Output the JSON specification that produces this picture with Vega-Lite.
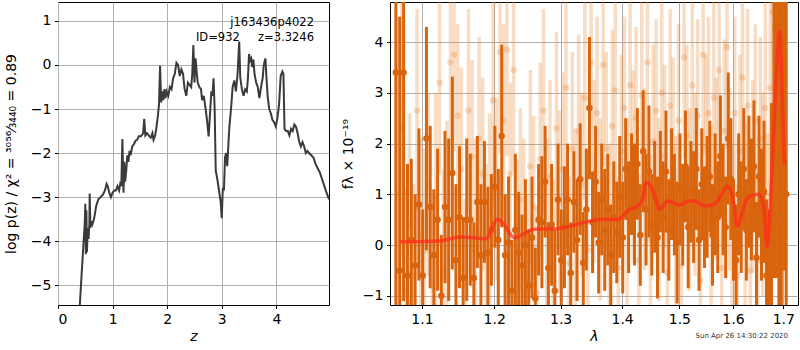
{
"$schema": "https://vega.github.io/schema/vega-lite/v6.json",
"padding": {"left": 3, "top": 1, "right": 0, "bottom": 0},
"background": "white",
"spacing": 10,
"config": {
 "view": {"stroke": "black", "strokeWidth": 1},
 "axis": {"domain": false, "grid": true, "gridColor": "#b0b0b0", "gridWidth": 1, "tickColor": "black", "tickSize": 3.5, "tickWidth": 1, "labelFont": "DejaVu Sans", "labelFontSize": 14, "labelColor": "black", "labelPadding": 3.5, "titleFont": "DejaVu Sans", "titleFontSize": 14, "titleFontWeight": "normal", "titleColor": "black"}
},
"datasets": {
 "pz": [
{"z":0.38,"lp":-5.8},{"z":0.40,"lp":-5.45},{"z":0.44,"lp":-4.6},{"z":0.47,"lp":-4.0},{"z":0.49,"lp":-3.6},{"z":0.50,"lp":-3.15},{"z":0.51,"lp":-4.3},{"z":0.52,"lp":-3.3},{"z":0.53,"lp":-4.25},{"z":0.545,"lp":-3.7},{"z":0.56,"lp":-3.95},{"z":0.575,"lp":-3.6},{"z":0.58,"lp":-2.92},{"z":0.595,"lp":-3.7},{"z":0.61,"lp":-3.55},{"z":0.63,"lp":-3.62},{"z":0.66,"lp":-3.5},{"z":0.70,"lp":-3.2},{"z":0.74,"lp":-3.05},{"z":0.78,"lp":-3.0},{"z":0.82,"lp":-2.95},{"z":0.86,"lp":-2.85},{"z":0.89,"lp":-2.7},{"z":0.91,"lp":-2.75},{"z":0.94,"lp":-2.9},{"z":0.97,"lp":-3.0},{"z":1.0,"lp":-2.9},{"z":1.03,"lp":-2.85},{"z":1.06,"lp":-2.85},{"z":1.09,"lp":-2.75},{"z":1.12,"lp":-2.85},{"z":1.14,"lp":-2.7},{"z":1.16,"lp":-2.75},{"z":1.18,"lp":-1.68},{"z":1.20,"lp":-2.9},{"z":1.215,"lp":-2.2},{"z":1.23,"lp":-2.65},{"z":1.25,"lp":-2.4},{"z":1.27,"lp":-2.05},{"z":1.29,"lp":-2.2},{"z":1.31,"lp":-1.95},{"z":1.33,"lp":-2.05},{"z":1.36,"lp":-1.85},{"z":1.39,"lp":-1.8},{"z":1.42,"lp":-1.72},{"z":1.45,"lp":-1.7},{"z":1.48,"lp":-1.62},{"z":1.52,"lp":-1.62},{"z":1.56,"lp":-1.55},{"z":1.58,"lp":-1.22},{"z":1.60,"lp":-1.6},{"z":1.63,"lp":-1.55},{"z":1.66,"lp":-1.6},{"z":1.70,"lp":-1.65},{"z":1.73,"lp":-1.55},{"z":1.75,"lp":-1.7},{"z":1.78,"lp":-1.6},{"z":1.80,"lp":-1.45},{"z":1.83,"lp":-1.15},{"z":1.85,"lp":-0.9},{"z":1.87,"lp":-0.02},{"z":1.89,"lp":-0.85},{"z":1.91,"lp":-0.6},{"z":1.93,"lp":-0.8},{"z":1.95,"lp":-0.55},{"z":1.97,"lp":-0.75},{"z":1.99,"lp":-0.6},{"z":2.02,"lp":-0.7},{"z":2.05,"lp":-0.5},{"z":2.08,"lp":-0.55},{"z":2.11,"lp":-0.3},{"z":2.14,"lp":-0.2},{"z":2.17,"lp":0.05},{"z":2.20,"lp":0.0},{"z":2.23,"lp":-0.25},{"z":2.26,"lp":-0.1},{"z":2.29,"lp":-0.2},{"z":2.32,"lp":-0.55},{"z":2.35,"lp":-0.7},{"z":2.38,"lp":-0.4},{"z":2.41,"lp":-0.45},{"z":2.44,"lp":-0.5},{"z":2.46,"lp":-0.2},{"z":2.48,"lp":0.45},{"z":2.50,"lp":-0.4},{"z":2.52,"lp":0.15},{"z":2.54,"lp":-0.15},{"z":2.56,"lp":-0.4},{"z":2.59,"lp":-0.5},{"z":2.62,"lp":-0.55},{"z":2.64,"lp":-0.8},{"z":2.67,"lp":-0.7},{"z":2.70,"lp":-0.95},{"z":2.73,"lp":-1.25},{"z":2.76,"lp":-1.62},{"z":2.79,"lp":-1.0},{"z":2.81,"lp":-0.6},{"z":2.83,"lp":-0.7},{"z":2.85,"lp":-0.3},{"z":2.87,"lp":-1.0},{"z":2.89,"lp":-2.4},{"z":2.92,"lp":-2.6},{"z":2.95,"lp":-2.85},{"z":2.98,"lp":-3.1},{"z":3.00,"lp":-3.48},{"z":3.02,"lp":-2.8},{"z":3.04,"lp":-2.85},{"z":3.06,"lp":-2.1},{"z":3.08,"lp":-2.0},{"z":3.10,"lp":-2.3},{"z":3.12,"lp":-1.85},{"z":3.14,"lp":-1.4},{"z":3.17,"lp":-1.0},{"z":3.20,"lp":-0.5},{"z":3.23,"lp":-0.35},{"z":3.26,"lp":-0.6},{"z":3.29,"lp":-0.2},{"z":3.32,"lp":0.53},{"z":3.34,"lp":-0.3},{"z":3.37,"lp":-0.55},{"z":3.40,"lp":-0.7},{"z":3.43,"lp":-0.55},{"z":3.46,"lp":-0.6},{"z":3.48,"lp":-0.3},{"z":3.50,"lp":0.25},{"z":3.52,"lp":0.1},{"z":3.54,"lp":0.15},{"z":3.56,"lp":-0.05},{"z":3.58,"lp":0.12},{"z":3.60,"lp":-0.2},{"z":3.63,"lp":-0.4},{"z":3.66,"lp":-0.5},{"z":3.69,"lp":-0.75},{"z":3.72,"lp":-0.5},{"z":3.75,"lp":-0.3},{"z":3.77,"lp":0.0},{"z":3.80,"lp":0.15},{"z":3.82,"lp":-0.3},{"z":3.84,"lp":-0.7},{"z":3.87,"lp":-1.0},{"z":3.90,"lp":-1.1},{"z":3.93,"lp":-1.25},{"z":3.96,"lp":-1.3},{"z":3.99,"lp":-1.4},{"z":4.02,"lp":-1.2},{"z":4.05,"lp":-0.9},{"z":4.08,"lp":-0.25},{"z":4.11,"lp":-0.15},{"z":4.13,"lp":-0.2},{"z":4.15,"lp":-1.45},{"z":4.18,"lp":-1.5},{"z":4.21,"lp":-1.5},{"z":4.24,"lp":-1.6},{"z":4.27,"lp":-1.45},{"z":4.30,"lp":-1.5},{"z":4.33,"lp":-1.35},{"z":4.36,"lp":-1.4},{"z":4.39,"lp":-1.55},{"z":4.42,"lp":-1.75},{"z":4.45,"lp":-1.85},{"z":4.48,"lp":-1.75},{"z":4.51,"lp":-1.85},{"z":4.54,"lp":-2.0},{"z":4.57,"lp":-1.95},{"z":4.60,"lp":-2.0},{"z":4.64,"lp":-2.05},{"z":4.68,"lp":-2.1},{"z":4.72,"lp":-2.25},{"z":4.76,"lp":-2.35},{"z":4.80,"lp":-2.45},{"z":4.84,"lp":-2.6},{"z":4.88,"lp":-2.75},{"z":4.92,"lp":-2.9},{"z":4.965,"lp":-3.05}
 ],
 "dk": [
{"w":1.066,"f":3.4,"e":5},{"w":1.071,"f":-0.5,"e":5},{"w":1.076,"f":3.4,"e":4.5},{"w":1.081,"f":-0.6,"e":2.2},{"w":1.086,"f":0.1,"e":1.6},{"w":1.091,"f":-0.4,"e":1.4},{"w":1.096,"f":0.8,"e":1.5},{"w":1.101,"f":-0.6,"e":1.3},{"w":1.106,"f":2.1,"e":2.2},{"w":1.111,"f":0.75,"e":1.6},{"w":1.116,"f":-0.2,"e":1.3},{"w":1.121,"f":0.5,"e":1.4},{"w":1.126,"f":-1.0,"e":1.2},{"w":1.131,"f":0.75,"e":1.5},{"w":1.136,"f":0.5,"e":1.6},{"w":1.141,"f":1.42,"e":1.9},{"w":1.146,"f":-0.3,"e":1.5},{"w":1.151,"f":0.55,"e":1.4},{"w":1.156,"f":-0.65,"e":1.2},{"w":1.161,"f":0.5,"e":1.6},{"w":1.166,"f":0.5,"e":1.3},{"w":1.171,"f":-0.65,"e":1.1},{"w":1.176,"f":0.85,"e":1.3},{"w":1.181,"f":-0.2,"e":1.4},{"w":1.186,"f":0.85,"e":1.2},{"w":1.191,"f":-0.15,"e":1.3},{"w":1.196,"f":0.3,"e":1.1},{"w":1.201,"f":1.15,"e":1.2},{"w":1.206,"f":0.1,"e":1.4},{"w":1.211,"f":2.15,"e":1.8},{"w":1.216,"f":-0.2,"e":1.2},{"w":1.221,"f":0.05,"e":1.3},{"w":1.226,"f":-0.9,"e":1.0},{"w":1.231,"f":0.3,"e":1.5},{"w":1.236,"f":-0.15,"e":1.2},{"w":1.241,"f":-0.4,"e":1.0},{"w":1.246,"f":0.0,"e":1.3},{"w":1.251,"f":-0.8,"e":1.1},{"w":1.256,"f":0.15,"e":1.2},{"w":1.261,"f":-1.05,"e":1.0},{"w":1.266,"f":0.5,"e":1.1},{"w":1.271,"f":0.45,"e":1.3},{"w":1.276,"f":1.25,"e":1.1},{"w":1.281,"f":-0.45,"e":0.9},{"w":1.286,"f":0.4,"e":1.2},{"w":1.291,"f":-0.9,"e":1.2},{"w":1.296,"f":0.9,"e":1.1},{"w":1.301,"f":-0.3,"e":1.0},{"w":1.306,"f":0.35,"e":1.2},{"w":1.311,"f":0.9,"e":1.1},{"w":1.316,"f":-0.55,"e":1.0},{"w":1.321,"f":0.85,"e":1.0},{"w":1.326,"f":0.1,"e":1.2},{"w":1.331,"f":1.3,"e":1.1},{"w":1.336,"f":-0.35,"e":1.0},{"w":1.341,"f":0.7,"e":1.2},{"w":1.346,"f":2.7,"e":1.4},{"w":1.351,"f":0.45,"e":1.0},{"w":1.356,"f":1.25,"e":1.1},{"w":1.361,"f":0.05,"e":1.0},{"w":1.366,"f":0.9,"e":1.1},{"w":1.371,"f":0.3,"e":1.2},{"w":1.376,"f":0.7,"e":1.1},{"w":1.381,"f":-0.2,"e":1.0},{"w":1.386,"f":0.55,"e":1.1},{"w":1.391,"f":0.25,"e":1.0},{"w":1.396,"f":0.95,"e":1.2},{"w":1.401,"f":0.15,"e":1.1},{"w":1.406,"f":1.5,"e":1.0},{"w":1.411,"f":0.55,"e":1.1},{"w":1.416,"f":1.2,"e":1.0},{"w":1.421,"f":0.8,"e":1.2},{"w":1.426,"f":1.6,"e":1.1},{"w":1.431,"f":0.2,"e":1.0},{"w":1.436,"f":1.85,"e":1.2},{"w":1.441,"f":0.7,"e":1.1},{"w":1.446,"f":1.45,"e":1.3},{"w":1.451,"f":0.4,"e":1.0},{"w":1.456,"f":0.95,"e":1.1},{"w":1.461,"f":0.15,"e":1.2},{"w":1.466,"f":1.25,"e":1.0},{"w":1.471,"f":0.55,"e":1.1},{"w":1.476,"f":1.45,"e":1.2},{"w":1.481,"f":0.3,"e":1.0},{"w":1.486,"f":1.2,"e":1.1},{"w":1.491,"f":0.8,"e":1.0},{"w":1.496,"f":0.05,"e":1.2},{"w":1.501,"f":1.1,"e":1.1},{"w":1.506,"f":0.6,"e":1.0},{"w":1.511,"f":1.55,"e":1.1},{"w":1.516,"f":0.35,"e":1.2},{"w":1.521,"f":1.05,"e":1.0},{"w":1.526,"f":0.75,"e":1.1},{"w":1.531,"f":1.5,"e":1.2},{"w":1.536,"f":0.1,"e":1.0},{"w":1.541,"f":1.2,"e":1.1},{"w":1.546,"f":0.55,"e":1.0},{"w":1.551,"f":0.95,"e":1.2},{"w":1.556,"f":1.35,"e":1.1},{"w":1.561,"f":0.2,"e":1.0},{"w":1.566,"f":1.0,"e":1.2},{"w":1.571,"f":0.55,"e":1.1},{"w":1.576,"f":1.75,"e":1.2},{"w":1.581,"f":0.9,"e":1.1},{"w":1.586,"f":0.35,"e":1.0},{"w":1.591,"f":2.1,"e":1.3},{"w":1.596,"f":1.3,"e":1.2},{"w":1.601,"f":0.3,"e":1.0},{"w":1.606,"f":-0.3,"e":1.1},{"w":1.611,"f":1.0,"e":1.2},{"w":1.616,"f":0.55,"e":1.1},{"w":1.621,"f":1.5,"e":1.2},{"w":1.626,"f":0.3,"e":1.0},{"w":1.631,"f":1.25,"e":1.3},{"w":1.636,"f":0.9,"e":1.2},{"w":1.641,"f":1.55,"e":1.3},{"w":1.646,"f":-0.25,"e":1.1},{"w":1.651,"f":1.35,"e":1.2},{"w":1.656,"f":0.6,"e":1.3},{"w":1.661,"f":1.05,"e":1.4},{"w":1.666,"f":-0.6,"e":1.5},{"w":1.671,"f":-1.1,"e":1.8},{"w":1.676,"f":0.3,"e":2.5},{"w":1.681,"f":2.35,"e":3},{"w":1.686,"f":4.35,"e":5},{"w":1.691,"f":0.5,"e":5},{"w":1.696,"f":3.1,"e":5},{"w":1.701,"f":4.5,"e":5},{"w":1.706,"f":1.0,"e":5}
 ],
 "lt": [
{"w":1.0685,"f":1.0,"e":3.5},{"w":1.0735,"f":2.3,"e":2.5},{"w":1.0785,"f":-0.9,"e":2.0},{"w":1.0835,"f":0.4,"e":2.2},{"w":1.0885,"f":-0.6,"e":1.8},{"w":1.0935,"f":2.65,"e":2.0},{"w":1.0985,"f":0.2,"e":1.9},{"w":1.1035,"f":-0.1,"e":2.0},{"w":1.1085,"f":1.2,"e":1.8},{"w":1.1135,"f":-0.8,"e":1.9},{"w":1.1185,"f":0.9,"e":2.1},{"w":1.1235,"f":3.2,"e":1.8},{"w":1.1285,"f":-0.5,"e":2.0},{"w":1.1335,"f":0.55,"e":1.9},{"w":1.1385,"f":3.6,"e":2.1},{"w":1.1435,"f":3.75,"e":1.9},{"w":1.1485,"f":2.55,"e":1.8},{"w":1.1535,"f":1.5,"e":2.0},{"w":1.1585,"f":-0.8,"e":1.7},{"w":1.1635,"f":2.65,"e":2.0},{"w":1.1685,"f":1.75,"e":1.9},{"w":1.1735,"f":0.3,"e":1.8},{"w":1.1785,"f":2.1,"e":2.0},{"w":1.1835,"f":1.4,"e":1.9},{"w":1.1885,"f":-0.2,"e":1.8},{"w":1.1935,"f":0.6,"e":2.0},{"w":1.1985,"f":2.85,"e":2.1},{"w":1.2035,"f":1.1,"e":1.8},{"w":1.2085,"f":3.8,"e":2.0},{"w":1.2135,"f":2.45,"e":1.9},{"w":1.2185,"f":3.85,"e":2.1},{"w":1.2235,"f":1.4,"e":1.8},{"w":1.2285,"f":3.45,"e":2.0},{"w":1.2335,"f":-0.2,"e":1.9},{"w":1.2385,"f":0.9,"e":1.8},{"w":1.2435,"f":0.1,"e":2.0},{"w":1.2485,"f":-0.7,"e":1.7},{"w":1.2535,"f":1.55,"e":1.9},{"w":1.2585,"f":0.75,"e":1.8},{"w":1.2635,"f":-0.95,"e":1.7},{"w":1.2685,"f":1.7,"e":1.9},{"w":1.2735,"f":2.65,"e":2.0},{"w":1.2785,"f":0.3,"e":1.8},{"w":1.2835,"f":1.35,"e":1.9},{"w":1.2885,"f":-0.5,"e":1.8},{"w":1.2935,"f":2.3,"e":1.9},{"w":1.2985,"f":0.85,"e":1.8},{"w":1.3035,"f":1.5,"e":1.9},{"w":1.3085,"f":3.1,"e":2.0},{"w":1.3135,"f":-0.35,"e":1.7},{"w":1.3185,"f":1.9,"e":1.9},{"w":1.3235,"f":0.5,"e":1.8},{"w":1.3285,"f":2.25,"e":1.9},{"w":1.3335,"f":1.2,"e":1.8},{"w":1.3385,"f":2.9,"e":2.0},{"w":1.3435,"f":-0.1,"e":1.8},{"w":1.3485,"f":3.6,"e":2.1},{"w":1.3535,"f":1.45,"e":1.8},{"w":1.3585,"f":2.6,"e":1.9},{"w":1.3635,"f":0.7,"e":1.8},{"w":1.3685,"f":3.55,"e":2.0},{"w":1.3735,"f":1.9,"e":1.9},{"w":1.3785,"f":0.2,"e":1.8},{"w":1.3835,"f":2.35,"e":1.9},{"w":1.3885,"f":3.05,"e":2.0},{"w":1.3935,"f":-0.45,"e":1.8},{"w":1.3985,"f":1.85,"e":1.9},{"w":1.4035,"f":2.7,"e":1.8},{"w":1.4085,"f":0.6,"e":1.9},{"w":1.4135,"f":3.15,"e":1.8},{"w":1.4185,"f":1.55,"e":1.9},{"w":1.4235,"f":2.5,"e":1.8},{"w":1.4285,"f":-0.3,"e":1.7},{"w":1.4335,"f":2.95,"e":1.9},{"w":1.4385,"f":1.3,"e":1.8},{"w":1.4435,"f":3.6,"e":2.0},{"w":1.4485,"f":0.1,"e":1.7},{"w":1.4535,"f":2.05,"e":1.9},{"w":1.4585,"f":2.65,"e":1.8},{"w":1.4635,"f":0.7,"e":1.8},{"w":1.4685,"f":3.0,"e":1.9},{"w":1.4735,"f":1.75,"e":1.8},{"w":1.4785,"f":-0.55,"e":1.7},{"w":1.4835,"f":2.75,"e":1.9},{"w":1.4885,"f":1.9,"e":1.8},{"w":1.4935,"f":0.35,"e":1.8},{"w":1.4985,"f":2.45,"e":1.9},{"w":1.5035,"f":-0.4,"e":1.7},{"w":1.5085,"f":3.7,"e":2.0},{"w":1.5135,"f":2.15,"e":1.8},{"w":1.5185,"f":0.9,"e":1.8},{"w":1.5235,"f":3.15,"e":1.9},{"w":1.5285,"f":1.2,"e":1.8},{"w":1.5335,"f":2.55,"e":1.9},{"w":1.5385,"f":-0.7,"e":1.7},{"w":1.5435,"f":3.75,"e":2.0},{"w":1.5485,"f":1.95,"e":1.8},{"w":1.5535,"f":2.6,"e":1.9},{"w":1.5585,"f":0.55,"e":1.8},{"w":1.5635,"f":2.9,"e":1.9},{"w":1.5685,"f":1.5,"e":1.8},{"w":1.5735,"f":3.45,"e":2.0},{"w":1.5785,"f":-0.45,"e":1.7},{"w":1.5835,"f":2.25,"e":1.8},{"w":1.5885,"f":3.9,"e":2.0},{"w":1.5935,"f":1.3,"e":1.8},{"w":1.5985,"f":0.2,"e":1.8},{"w":1.6035,"f":2.6,"e":1.9},{"w":1.6085,"f":-0.6,"e":1.8},{"w":1.6135,"f":1.85,"e":1.9},{"w":1.6185,"f":3.3,"e":2.0},{"w":1.6235,"f":0.6,"e":1.8},{"w":1.6285,"f":2.75,"e":1.9},{"w":1.6335,"f":-0.5,"e":1.8},{"w":1.6385,"f":1.35,"e":1.9},{"w":1.6435,"f":2.45,"e":1.9},{"w":1.6485,"f":-0.3,"e":1.8},{"w":1.6535,"f":2.1,"e":2.0},{"w":1.6585,"f":1.0,"e":2.0},{"w":1.6635,"f":2.7,"e":2.2},{"w":1.6685,"f":-0.2,"e":2.4},{"w":1.6735,"f":3.1,"e":2.5},{"w":1.6785,"f":4.6,"e":3},{"w":1.6835,"f":4.3,"e":3.5},{"w":1.6885,"f":3.9,"e":4},{"w":1.6935,"f":4.75,"e":4}
 ],
 "model": [
{"w":1.071,"f":0.066},{"w":1.124,"f":0.08},{"w":1.151,"f":0.16},{"w":1.170,"f":0.145},{"w":1.188,"f":0.125},{"w":1.205,"f":0.51},{"w":1.212,"f":0.44},{"w":1.230,"f":0.145},{"w":1.242,"f":0.21},{"w":1.257,"f":0.31},{"w":1.293,"f":0.32},{"w":1.314,"f":0.37},{"w":1.346,"f":0.47},{"w":1.367,"f":0.51},{"w":1.392,"f":0.50},{"w":1.412,"f":0.70},{"w":1.426,"f":0.77},{"w":1.435,"f":0.90},{"w":1.441,"f":1.23},{"w":1.444,"f":1.23},{"w":1.455,"f":1.0},{"w":1.465,"f":0.70},{"w":1.479,"f":0.87},{"w":1.500,"f":0.79},{"w":1.518,"f":0.87},{"w":1.530,"f":0.87},{"w":1.545,"f":0.77},{"w":1.564,"f":0.80},{"w":1.580,"f":1.03},{"w":1.589,"f":1.16},{"w":1.593,"f":1.14},{"w":1.602,"f":0.80},{"w":1.608,"f":0.375},{"w":1.612,"f":0.44},{"w":1.625,"f":0.87},{"w":1.635,"f":0.97},{"w":1.651,"f":1.0},{"w":1.661,"f":0.74},{"w":1.667,"f":-0.02},{"w":1.674,"f":0.87},{"w":1.681,"f":2.32},{"w":1.693,"f":4.22},{"w":1.698,"f":2.84},{"w":1.702,"f":1.59}
 ]
},
"hconcat": [
 {
  "width": 271, "height": 303,
  "layer": [
   {
    "data": {"name": "pz"},
    "mark": {"type": "line", "color": "#3a3a3a", "strokeWidth": 2, "clip": true},
    "encoding": {
     "x": {"field": "z", "type": "quantitative", "scale": {"domain": [0, 4.965], "nice": false, "zero": false}, "axis": {"values": [0, 1, 2, 3, 4], "title": "z", "titleFontStyle": "italic", "titlePadding": 3}},
     "y": {"field": "lp", "type": "quantitative", "scale": {"domain": [-5.45, 1.43], "nice": false, "zero": false}, "axis": {"values": [-5, -4, -3, -2, -1, 0, 1], "title": "log p(z) / χ² = ³⁰⁵⁶⁄₃₄₄₀ = 0.89", "titlePadding": 12}}
    }
   },
   {
    "data": {"values": [{}]},
    "mark": {"type": "text", "align": "right", "baseline": "middle", "font": "DejaVu Sans", "fontSize": 11.5, "lineHeight": 15, "color": "black"},
    "encoding": {
     "x": {"datum": 4.69, "type": "quantitative"},
     "y": {"datum": 0.95, "type": "quantitative"},
     "text": {"value": ["j163436p4022", "ID=932\u00a0\u00a0\u00a0\u00a0\u00a0z=3.3246"]}
    }
   }
  ]
 },
 {
  "width": 408, "height": 303,
  "title": {"text": "Sun Apr 26 14:30:22 2020", "orient": "bottom", "anchor": "end", "font": "DejaVu Sans", "fontSize": 7, "fontWeight": "normal", "color": "#333333", "offset": -11, "dx": -10},
  "encoding": {
   "x": {"field": "w", "type": "quantitative", "scale": {"type": "log", "domain": [1.0585, 1.7304], "nice": false}, "axis": {"values": [1.1, 1.2, 1.3, 1.4, 1.5, 1.6, 1.7], "format": ".1f", "title": "λ", "titleFontStyle": "italic", "titlePadding": 3}},
   "y": {"field": "f", "type": "quantitative", "scale": {"domain": [-1.18, 4.79], "nice": false, "zero": false}, "axis": {"values": [-1, 0, 1, 2, 3, 4], "title": "fλ × 10⁻¹⁹", "titlePadding": 7}}
  },
  "layer": [
   {
    "data": {"name": "lt"},
    "mark": {"type": "errorbar", "color": "#e98a3c", "opacity": 0.3, "thickness": 3.5, "clip": true},
    "encoding": {"yError": {"field": "e"}}
   },
   {
    "data": {"name": "lt"},
    "mark": {"type": "circle", "color": "#e98a3c", "opacity": 0.3, "size": 40, "clip": true}
   },
   {
    "data": {"name": "dk"},
    "mark": {"type": "errorbar", "color": "#d9640e", "thickness": 3, "clip": true},
    "encoding": {"yError": {"field": "e"}}
   },
   {
    "data": {"name": "dk"},
    "mark": {"type": "circle", "color": "#d9640e", "opacity": 1, "size": 42, "clip": true}
   },
   {
    "data": {"name": "model"},
    "mark": {"type": "line", "color": "#ff2a1a", "opacity": 0.7, "strokeWidth": 3.5, "interpolate": "monotone", "clip": true}
   },
   {
    "data": {"values": [{}]},
    "mark": {"type": "rule", "color": "black", "strokeWidth": 2, "strokeDash": [2, 2.5]},
    "encoding": {"x": null, "y": {"datum": 0, "type": "quantitative"}}
   }
  ]
 }
]
}
